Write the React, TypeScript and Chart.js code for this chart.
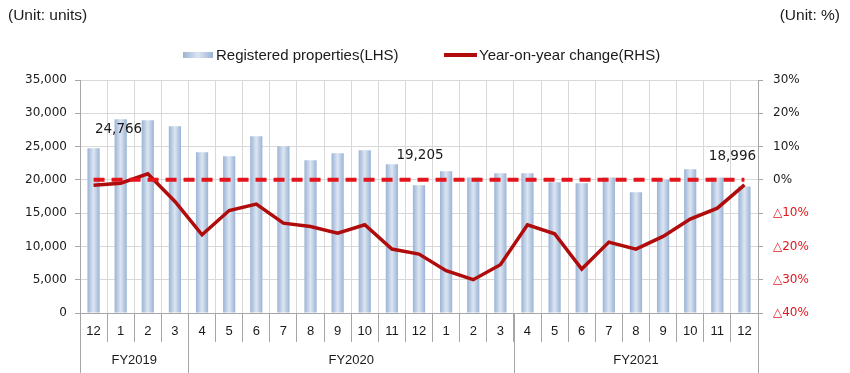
import React, { useEffect, useRef } from "react";
import { Chart, registerables } from "chart.js";

Chart.register(...registerables);

const months = ["12", "1", "2", "3", "4", "5", "6", "7", "8", "9", "10", "11", "12", "1", "2", "3", "4", "5", "6", "7", "8", "9", "10", "11", "12"];
const fyLabels = ["FY2019", "FY2020", "FY2021"];
const fySpans = [4, 12, 9];
const registered = [24766, 29100, 28950, 28050, 24150, 23550, 26550, 25050, 22950, 24000, 24450, 22350, 19205, 21300, 20350, 21000, 21000, 19650, 19500, 20350, 18150, 20000, 21600, 20350, 18996];
const yoyChange = [-1.6, -1.0, 1.8, -6.5, -16.5, -9.2, -7.3, -13.0, -14.0, -16.0, -13.5, -20.8, -22.3, -27.3, -30.0, -25.5, -13.5, -16.2, -26.8, -18.7, -20.8, -17.0, -11.8, -8.5, -1.5];
const zeroLine = [0, 0, 0, 0, 0, 0, 0, 0, 0, 0, 0, 0, 0, 0, 0, 0, 0, 0, 0, 0, 0, 0, 0, 0, 0];
const leftTicks = [0, 5000, 10000, 15000, 20000, 25000, 30000, 35000];
const rightTicks = [-40, -30, -20, -10, 0, 10, 20, 30];
const labelledIndices = [0, 12, 24];

const TEXT_FONT = "'Liberation Sans', Arial, sans-serif";
const NUM_FONT = "'DejaVu Sans', Verdana, sans-serif";
const GRID = "#d9d9d9";
const AXIS = "#a6a6a6";
const RED = "#e3141c";
const DARK_RED = "#b00c0c";

const fmt = (v: number) => v.toLocaleString("en-US");

const overlayPlugin = {
  id: "overlay",
  afterDraw(chart: any) {
    const ctx = chart.ctx;
    const xs = chart.scales.x;
    const ys = chart.scales.y;
    const n = months.length;
    const cw = (xs.right - xs.left) / n;
    const bottom = chart.chartArea.bottom;
    ctx.save();
    // FY group separators and labels
    ctx.strokeStyle = AXIS;
    ctx.lineWidth = 1;
    let start = 0;
    const bounds: number[] = [];
    fySpans.forEach((span) => {
      bounds.push(start);
      start += span;
    });
    bounds.push(start);
    bounds.forEach((b) => {
      const px = Math.round(xs.getPixelForValue(b) - cw / 2) + 0.5;
      ctx.beginPath();
      ctx.moveTo(px, bottom);
      ctx.lineTo(px, chart.height);
      ctx.stroke();
    });
    ctx.fillStyle = "#1a1a1a";
    ctx.font = `13px ${TEXT_FONT}`;
    ctx.textAlign = "center";
    ctx.textBaseline = "middle";
    fyLabels.forEach((lab, i) => {
      const a = xs.getPixelForValue(bounds[i]) - cw / 2;
      const b = xs.getPixelForValue(bounds[i + 1]) - cw / 2;
      ctx.fillText(lab, (a + b) / 2, bottom + 47);
    });
    // value labels
    const offsets: Record<number, [number, number]> = { 0: [25, 19], 12: [1, 30], 24: [-12, 30] };
    ctx.font = `13.5px ${NUM_FONT}`;
    ctx.fillStyle = "#1a1a1a";
    labelledIndices.forEach((i) => {
      const [dx, dy] = offsets[i];
      const x = xs.getPixelForValue(i) + dx;
      const y = ys.getPixelForValue(registered[i]) - dy;
      ctx.fillText(fmt(registered[i]), x, y);
    });
    ctx.restore();
  },
};

export default function App() {
  const ref = useRef<HTMLCanvasElement | null>(null);
  useEffect(() => {
    const canvas = ref.current!;
    const chart = new Chart(canvas, {
      data: {
        labels: months,
        datasets: [
          {
            type: "line",
            label: "zero",
            data: zeroLine,
            yAxisID: "y1",
            borderColor: RED,
            borderWidth: 4,
            borderDash: [11, 7],
            pointRadius: 0,
            order: 0,
          },
          {
            type: "line",
            label: "Year-on-year change(RHS)",
            data: yoyChange,
            yAxisID: "y1",
            borderColor: DARK_RED,
            borderWidth: 3.5,
            pointRadius: 0,
            tension: 0,
            order: 1,
          },
          {
            type: "bar",
            label: "Registered properties(LHS)",
            data: registered,
            yAxisID: "y",
            barPercentage: 0.45,
            categoryPercentage: 1,
            order: 2,
            backgroundColor: (c: any) => {
              const xs = c.chart.scales?.x;
              if (!xs || c.dataIndex === undefined || !isFinite(xs.left)) return "#b8cce4";
              const cx = xs.getPixelForValue(c.dataIndex);
              const w = ((xs.right - xs.left) / months.length) * 0.45;
              const g = c.chart.ctx.createLinearGradient(cx - w / 2, 0, cx + w / 2, 0);
              g.addColorStop(0, "#9ab3d5");
              g.addColorStop(0.5, "#dce6f2");
              g.addColorStop(1, "#9ab3d5");
              return g;
            },
          },
        ],
      } as any,
      options: {
        animation: false,
        responsive: false,
        layout: { padding: { top: 80, left: 0, right: 0, bottom: 0 } },
        plugins: { legend: { display: false }, tooltip: { enabled: false } },
        scales: {
          x: {
            type: "category",
            offset: true,
            grid: { offset: true, color: GRID, tickColor: AXIS, tickLength: 29, drawTicks: true },
            border: { color: AXIS },
            ticks: {
              autoSkip: false,
              maxRotation: 0,
              padding: -18,
              color: "#1a1a1a",
              font: { family: TEXT_FONT, size: 13 },
            },
            afterFit: (s: any) => {
              s.height = 60;
            },
          },
          y: {
            position: "left",
            min: 0,
            max: 35000,
            afterBuildTicks: (s: any) => {
              s.ticks = leftTicks.map((v) => ({ value: v }));
            },
            grid: { color: GRID, tickColor: AXIS, tickLength: 5 },
            border: { color: AXIS },
            ticks: {
              padding: 8,
              color: "#1a1a1a",
              font: { family: NUM_FONT, size: 12 },
              callback: (v: any) => fmt(Number(v)),
            },
            afterFit: (s: any) => {
              s.width = 80;
            },
          },
          y1: {
            position: "right",
            min: -40,
            max: 30,
            afterBuildTicks: (s: any) => {
              s.ticks = rightTicks.map((v) => ({ value: v }));
            },
            grid: { drawOnChartArea: false, tickColor: AXIS, tickLength: 5 },
            border: { color: AXIS },
            ticks: {
              padding: 10,
              color: (c: any) => (c.tick && c.tick.value < 0 ? RED : "#1a1a1a"),
              font: { family: NUM_FONT, size: 12 },
              callback: (v: any) => (Number(v) < 0 ? "△" + -Number(v) + "%" : v + "%"),
            },
            afterFit: (s: any) => {
              s.width = 92;
            },
          },
        },
      } as any,
      plugins: [overlayPlugin],
    });
    return () => chart.destroy();
  }, []);

  const textStyle: React.CSSProperties = {
    position: "absolute",
    fontFamily: TEXT_FONT,
    fontSize: "15.5px",
    lineHeight: "18px",
    color: "#1a1a1a",
    whiteSpace: "nowrap",
  };

  return (
    <div style={{ position: "fixed", left: 0, top: 0, width: 850, height: 373, background: "#fff" }}>
      <canvas ref={ref} width={850} height={373} style={{ position: "absolute", left: 0, top: 0, width: 850, height: 373 }} />
      <div style={{ ...textStyle, left: 8, top: 6 }}>(Unit: units)</div>
      <div style={{ ...textStyle, right: 10, top: 6 }}>(Unit: %)</div>
      <div
        style={{
          position: "absolute",
          left: 183,
          top: 52,
          width: 30,
          height: 6,
          background: "linear-gradient(to right, #9ab3d5, #dce6f2 50%, #9ab3d5)",
        }}
      />
      <div style={{ ...textStyle, fontSize: "15px", left: 216, top: 46 }}>Registered properties(LHS)</div>
      <div style={{ position: "absolute", left: 444, top: 53, width: 33, height: 4, background: DARK_RED }} />
      <div style={{ ...textStyle, fontSize: "15px", left: 479, top: 46 }}>Year-on-year change(RHS)</div>
    </div>
  );
}
